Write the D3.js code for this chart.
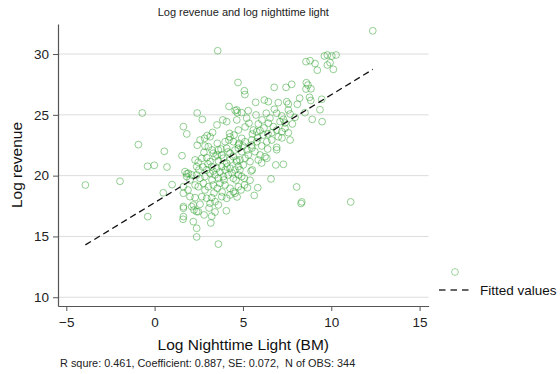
<!DOCTYPE html>
<html>
<head>
<meta charset="utf-8">
<script src="https://cdn.jsdelivr.net/npm/d3@7"></script>
<style>
body { margin: 0; background: #fff; }
text { font-family: Arial, "Liberation Sans", sans-serif; }
</style>
</head>
<body>
<script>
var width = 560,
    height = 374;

var chartTitle = "Log revenue and log nighttime light",
    xTitle = "Log Nighttime Light (BM)",
    yTitle = "Log revenue",
    note = "R squre: 0.461, Coefficient: 0.887, SE: 0.072,  N of OBS: 344",
    legendLabel = "Fitted values";

var xTicks = [-5, 0, 5, 10, 15],
    yTicks = [10, 15, 20, 25, 30];

// fitted line (from the regression shown in the note)
var fitIntercept = 17.78,
    fitSlope = 0.887;

// log nighttime light (x) and log revenue (y)
var lightLog = [
  -3.92,-1.96,-0.92,-0.70,-0.40,-0.02,-0.39,0.55,0.70,0.49,
  0.99,1.55,1.63,1.82,2.41,2.70,2.41,3.57,4.72,4.21,
  4.56,4.68,3.86,4.08,3.53,3.28,2.97,2.83,4.24,4.27,
  4.20,2.79,3.14,3.55,1.72,1.82,1.63,1.63,1.63,1.63,
  1.63,1.61,2.19,2.23,2.38,2.19,2.38,2.38,3.23,3.18,
  4.06,3.61,12.35,9.61,9.78,10.03,10.27,8.57,8.80,9.08,
  9.21,9.93,9.78,10.12,5.08,5.11,6.77,7.44,7.76,8.59,
  8.68,8.57,8.85,8.21,8.77,8.84,9.46,9.36,8.92,9.48,
  5.72,6.21,6.44,7.00,7.48,7.57,8.08,4.65,4.93,5.30,
  6.78,6.91,7.57,7.67,8.51,5.74,6.32,7.20,7.29,7.10,
  7.95,7.80,5.34,5.87,6.44,6.72,6.91,6.63,7.38,7.57,
  7.67,5.59,5.78,5.97,5.53,6.15,4.74,4.93,5.12,4.78,
  6.35,6.91,5.78,6.06,6.91,6.40,6.86,7.29,6.59,8.04,
  8.29,8.33,11.10,5.84,5.64,5.26,5.09,5.46,5.53,4.55,
  5.08,4.93,5.40,4.83,5.02,6.06,6.35,5.68,5.97,6.25,
  5.30,4.74,4.93,5.12,4.65,5.40,
  2.29,2.47,2.38,2.67,2.95,3.14,3.42,3.61,3.89,4.08,4.27,4.46,4.65,3.80,3.52,3.23,2.95,3.99,4.27,4.55,4.74,
  1.91,1.82,2.10,2.38,2.57,2.85,3.14,3.42,3.61,3.89,4.17,4.46,4.74,
  2.29,2.47,2.76,3.04,3.32,3.55,3.70,3.99,4.27,4.46,4.74,
  2.00,2.29,2.67,2.95,3.23,3.42,3.61,3.14,3.80,4.08,2.10,2.57,2.47,
  3.04,3.32,3.61,3.80,4.08,4.27,4.55,4.74,3.99,4.46,
  5.21,4.65,5.50,6.63,7.00,7.20,
  5.50,5.87,
  2.51,2.74,3.02,3.31,3.70,4.10,4.38,4.61,3.93,3.25,
  2.85,3.36,3.82,4.27,4.67,4.89,4.83,5.00,5.23,5.51,
  5.85,6.19,6.42,7.21,7.38,6.08,6.53,5.12,4.50,4.16,
  3.53,3.25,2.85,2.57,2.00,1.89,3.08,3.42,2.80,3.76
];

var revenueLog = [
  19.23,19.54,22.55,25.15,20.77,20.85,16.63,22.00,20.71,18.59,
  19.26,21.64,24.03,23.43,25.15,24.62,22.50,30.27,27.66,25.69,
  25.35,25.18,24.58,24.44,24.17,23.55,23.30,23.07,23.47,23.18,
  22.93,21.90,23.20,22.66,20.33,20.15,19.09,18.55,17.45,17.32,
  16.63,16.41,17.59,17.18,17.04,16.22,15.67,14.96,16.66,16.11,
  17.11,14.37,31.91,29.84,29.92,29.84,29.92,29.37,29.45,29.22,
  28.67,29.29,29.10,28.74,26.98,26.67,27.26,27.26,27.51,27.64,
  27.45,27.12,27.14,26.37,26.44,26.18,26.28,25.42,24.63,24.44,
  26.03,26.22,26.08,26.00,26.08,25.89,25.87,25.40,25.18,25.34,
  25.46,25.13,25.40,25.07,25.18,24.99,25.13,24.91,24.63,24.44,
  24.80,24.25,24.31,24.25,24.31,24.03,23.75,23.53,23.89,23.53,
  22.93,23.75,23.61,23.70,23.43,23.34,23.75,23.07,22.79,22.66,
  22.79,22.33,22.79,22.44,22.13,22.19,20.88,20.93,19.73,19.07,
  17.71,17.84,17.84,19.01,18.37,19.01,19.23,20.38,20.47,18.55,
  19.78,19.92,19.62,20.47,20.88,21.04,21.43,21.97,21.70,21.56,
  21.70,22.25,21.97,21.43,21.29,21.15,
  21.29,21.10,20.74,21.43,21.48,21.15,21.56,21.21,21.43,21.02,21.29,21.56,21.15,20.74,20.61,20.74,20.47,20.47,20.61,20.47,20.74,
  20.19,19.92,20.06,20.06,19.78,19.92,20.19,20.06,19.78,19.92,20.06,19.78,20.06,
  19.23,19.09,19.37,19.09,19.23,18.96,19.37,19.23,18.96,18.68,19.09,
  18.27,18.19,18.27,18.14,18.19,17.86,17.59,17.73,18.27,18.14,17.45,17.65,17.04,
  22.38,21.84,22.11,21.70,22.25,21.84,22.11,22.52,22.79,22.79,
  24.72,24.58,22.93,22.93,23.20,23.61,
  22.52,21.29,
  20.47,20.71,20.96,20.38,20.30,20.71,20.22,19.64,19.64,19.64,
  18.82,18.58,18.66,18.41,18.25,18.82,21.29,22.44,22.11,22.27,
  23.10,23.92,23.43,23.10,24.33,24.58,24.74,24.00,23.34,21.95,
  21.70,22.11,22.44,22.93,19.64,18.82,17.34,17.01,16.77,22.19
];

var plot = { left: 58, right: 428.6, top: 24, bottom: 306 };

var x = d3.scaleLinear().domain([-5.47, 15.51]).range([plot.left, plot.right]);
var y = d3.scaleLinear().domain([9.28, 32.47]).range([plot.bottom, plot.top]);

var svg = d3.select("body").append("svg")
    .attr("width", width)
    .attr("height", height)
    .style("background", "#fff");

var axisColor = "#555",
    dotColor = "#1f9a1f";

// gridlines
svg.append("g").selectAll("line")
    .data(yTicks)
    .enter().append("line")
    .attr("x1", plot.left)
    .attr("x2", plot.right)
    .attr("y1", function(d) { return y(d); })
    .attr("y2", function(d) { return y(d); })
    .attr("stroke", "#dcdcdc")
    .attr("stroke-width", 1);

// axes
var yAxis = svg.append("g")
    .attr("transform", "translate(" + plot.left + ",0)")
    .call(d3.axisLeft(y).tickValues(yTicks).tickSize(5).tickPadding(4).tickSizeOuter(0));

var xAxis = svg.append("g")
    .attr("transform", "translate(0," + plot.bottom + ")")
    .call(d3.axisBottom(x).tickValues(xTicks).tickSize(5).tickPadding(6).tickSizeOuter(0));

[xAxis, yAxis].forEach(function(a) {
    a.select(".domain").attr("stroke", axisColor).attr("stroke-width", 1.2);
    a.selectAll(".tick line").attr("stroke", axisColor);
    a.selectAll(".tick text")
        .attr("fill", "#222")
        .style("font-size", "13.5px")
        .style("font-family", "Arial, 'Liberation Sans', sans-serif");
});

// points
var pts = d3.range(lightLog.length).map(function(i) {
    return { x: lightLog[i], y: revenueLog[i] };
});

svg.append("g").selectAll("circle")
    .data(pts)
    .enter().append("circle")
    .attr("cx", function(d) { return x(d.x); })
    .attr("cy", function(d) { return y(d.y); })
    .attr("r", 3.4)
    .attr("fill", "none")
    .attr("stroke", dotColor)
    .attr("stroke-opacity", 0.5)
    .attr("stroke-width", 0.95);

// fitted line
var xExt = d3.extent(lightLog);
var fit = xExt.map(function(v) { return { x: v, y: fitIntercept + fitSlope * v }; });

svg.append("path")
    .datum(fit)
    .attr("d", d3.line().x(function(d) { return x(d.x); }).y(function(d) { return y(d.y); }))
    .attr("fill", "none")
    .attr("stroke", "#111")
    .attr("stroke-width", 1.3)
    .attr("stroke-dasharray", "6.5,4");

// titles
svg.append("text")
    .attr("x", (plot.left + plot.right) / 2)
    .attr("y", 16)
    .attr("text-anchor", "middle")
    .style("font-size", "11px")
    .attr("fill", "#222")
    .text(chartTitle);

svg.append("text")
    .attr("x", (plot.left + plot.right) / 2)
    .attr("y", 350)
    .attr("text-anchor", "middle")
    .style("font-size", "15.5px")
    .attr("fill", "#111")
    .text(xTitle);

svg.append("text")
    .attr("transform", "translate(22," + (plot.top + plot.bottom) / 2 + ")rotate(-90)")
    .attr("text-anchor", "middle")
    .style("font-size", "15.5px")
    .attr("fill", "#111")
    .text(yTitle);

svg.append("text")
    .attr("x", 60)
    .attr("y", 367)
    .style("font-size", "10.9px")
    .style("white-space", "pre")
    .attr("fill", "#222")
    .text(note);

// legend
var legend = svg.append("g");

legend.append("circle")
    .attr("cx", 455)
    .attr("cy", 272)
    .attr("r", 3.4)
    .attr("fill", "none")
    .attr("stroke", dotColor)
    .attr("stroke-opacity", 0.45)
    .attr("stroke-width", 0.95);

legend.append("line")
    .attr("x1", 439)
    .attr("x2", 473)
    .attr("y1", 290)
    .attr("y2", 290)
    .attr("stroke", "#333")
    .attr("stroke-width", 1.3)
    .attr("stroke-dasharray", "6.5,5");

legend.append("text")
    .attr("x", 480)
    .attr("y", 294.5)
    .style("font-size", "13.5px")
    .attr("fill", "#111")
    .text(legendLabel);
</script>
</body>
</html>
